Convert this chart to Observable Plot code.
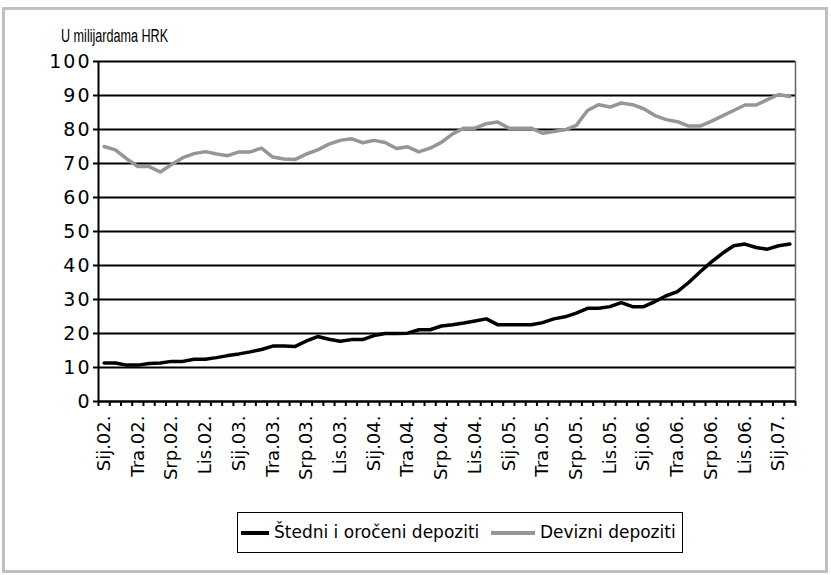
<!DOCTYPE html>
<html>
<head>
<meta charset="utf-8">
<script src="https://cdn.jsdelivr.net/npm/d3@7"></script>
<script src="https://cdn.jsdelivr.net/npm/@observablehq/plot@0.6"></script>
<style>
  html, body { margin: 0; padding: 0; background: #fff; }
  body { width: 831px; height: 575px; position: relative; overflow: hidden; font-family: "DejaVu Sans", sans-serif; }
  #frame { position: absolute; left: 2px; top: 7px; width: 820px; height: 560px; border: 3px solid #c0c0c0; }
  #chart { position: absolute; left: 0; top: 0; }
  #unit { position: absolute; left: 61px; top: 26px; font-family: "Liberation Sans", sans-serif; font-size: 18px; color: #000; transform: scaleX(0.7); transform-origin: left top; white-space: nowrap; }
  #legend { position: absolute; left: 237px; top: 512px; width: 444px; height: 39px; border: 1.5px solid #000; background: #fff; font-size: 17px; }
  #legend .sw { position: absolute; top: 18px; height: 4px; }
  #legend .lb { position: absolute; top: 9px; white-space: nowrap; }
  .yax text { letter-spacing: 2px; }
</style>
</head>
<body>
<div id="frame"></div>
<div id="chart"></div>
<div id="unit">U milijardama HRK</div>
<div id="legend"></div>
<script>
// ---- data ----
const monthNames = ["Sij", "Velj", "Ožu", "Tra", "Svi", "Lip", "Srp", "Kol", "Ruj", "Lis", "Stu", "Pro"];
const yearLabels = ["02", "03", "04", "05", "06", "07"];
const categories = yearLabels.flatMap(y => monthNames.map(m => `${m}.${y}.`)).slice(0, 62);

const seriesNames = ["Štedni i oročeni depoziti", "Devizni depoziti"];
const seriesColors = ["#000000", "#969696"];

const stedni = [
  11.3, 11.3, 10.7, 10.7, 11.2, 11.3, 11.8, 11.8, 12.4, 12.4, 12.9, 13.5,
  14.0, 14.6, 15.3, 16.3, 16.3, 16.2, 17.8, 19.1, 18.3, 17.7, 18.2, 18.2,
  19.4, 20.0, 20.0, 20.1, 21.1, 21.1, 22.2, 22.6, 23.1, 23.7, 24.3, 22.6,
  22.6, 22.6, 22.6, 23.2, 24.3, 24.9, 26.0, 27.4, 27.4, 27.9, 29.1, 27.9,
  27.9, 29.4, 31.1, 32.3, 35.0, 38.1, 41.0, 43.6, 45.8, 46.3, 45.3, 44.8,
  45.8, 46.3
];
const devizni = [
  75.0, 74.0, 71.4, 69.1, 69.1, 67.5, 69.7, 71.7, 72.9, 73.5, 72.8, 72.3,
  73.4, 73.4, 74.5, 71.9, 71.3, 71.2, 72.8, 74.0, 75.7, 76.8, 77.3, 76.1,
  76.8, 76.2, 74.4, 74.9, 73.4, 74.5, 76.2, 78.7, 80.4, 80.4, 81.7, 82.2,
  80.4, 80.4, 80.4, 78.9, 79.4, 79.9, 81.2, 85.6, 87.3, 86.6, 87.8, 87.3,
  86.1, 84.1, 82.9, 82.3, 81.0, 81.0, 82.4, 84.0, 85.6, 87.2, 87.2, 88.8,
  90.3, 89.7
];
const yTicks = [0, 10, 20, 30, 40, 50, 60, 70, 80, 90, 100];

// ---- table ----
const rows = [
  ...stedni.map((v, i) => ({i, v, s: seriesNames[0]})),
  ...devizni.map((v, i) => ({i, v, s: seriesNames[1]}))
];
const n = categories.length;
const boundaries = d3.range(n + 1).map(k => k - 0.5);
const labelIdx = d3.range(0, n, 3);

const chart = Plot.plot({
  width: 831,
  height: 500,
  marginLeft: 98,
  marginRight: 36,
  marginTop: 61,
  marginBottom: 99,
  style: {fontFamily: "DejaVu Sans, sans-serif", fontSize: "18px", color: "#000", background: "transparent"},
  x: {type: "linear", domain: [-0.5, n - 0.5]},
  y: {domain: [0, 100]},
  marks: [
    Plot.gridY(yTicks, {stroke: "#000", strokeOpacity: 1, strokeWidth: 2}),
    Plot.ruleX([n - 0.5], {y1: 0, y2: 100, stroke: "#666", strokeWidth: 1.5}),
    Plot.ruleX([-0.5], {y1: 0, y2: 100, stroke: "#000", strokeWidth: 2}),
    Plot.ruleY([0], {stroke: "#000", strokeWidth: 2}),
    Plot.axisY({ticks: yTicks, tickSize: 5, tickPadding: 2, strokeWidth: 2, label: null, fontSize: 19, className: "yax"}),
    Plot.axisX({ticks: boundaries, tickSize: 5, strokeWidth: 2, tickFormat: () => "", label: null}),
    Plot.axisX({ticks: labelIdx, tickSize: 0, tickPadding: 14, tickRotate: -90, tickFormat: i => categories[i], label: null, fontSize: 18}),
    Plot.lineY(rows, {x: "i", y: "v", z: "s", stroke: "s", strokeWidth: 3.5, strokeLinejoin: "round"})
  ],
  color: {domain: seriesNames, range: seriesColors}
});
document.getElementById("chart").appendChild(chart);

// ---- legend ----
const legend = document.getElementById("legend");
const lg = [
  {sw: 3, w: 28, tx: 36},
  {sw: 253, w: 44, tx: 302}
];
seriesNames.forEach((name, k) => {
  const sw = document.createElement("div");
  sw.className = "sw";
  sw.style.left = lg[k].sw + "px";
  sw.style.width = lg[k].w + "px";
  sw.style.background = seriesColors[k];
  legend.appendChild(sw);
  const lb = document.createElement("div");
  lb.className = "lb";
  lb.style.left = lg[k].tx + "px";
  lb.textContent = name;
  legend.appendChild(lb);
});
</script>
</body>
</html>
